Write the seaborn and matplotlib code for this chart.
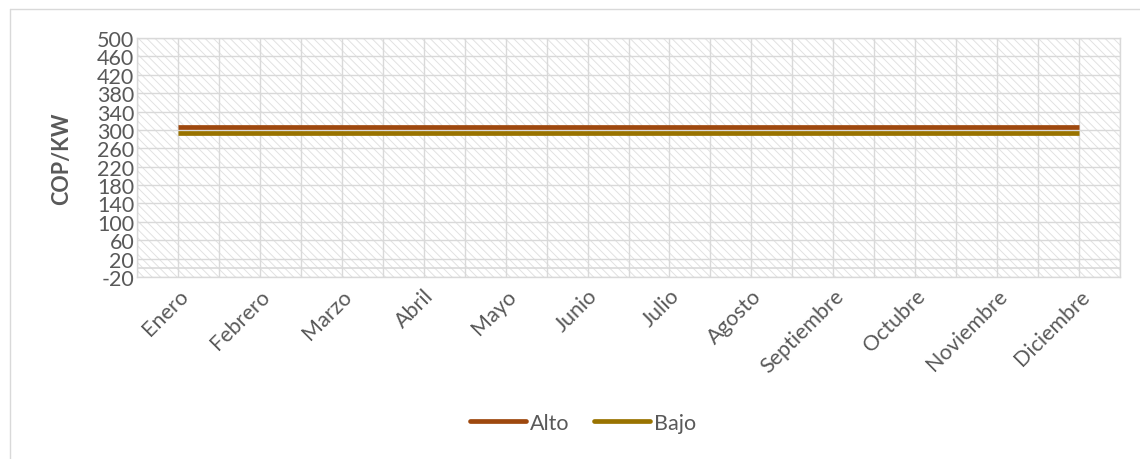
import numpy as np
import pandas as pd
import matplotlib
matplotlib.use('Agg')
import matplotlib.pyplot as plt
import seaborn as sns
from matplotlib.patches import Rectangle
from matplotlib.lines import Line2D

# Datos
meses = ['Enero', 'Febrero', 'Marzo', 'Abril', 'Mayo', 'Junio', 'Julio',
         'Agosto', 'Septiembre', 'Octubre', 'Noviembre', 'Diciembre']
alto = [307, 307, 307, 307, 307, 307, 307, 307, 307, 307, 307, 307]
bajo = [294, 294, 294, 294, 294, 294, 294, 294, 294, 294, 294, 294]
series = ['Alto', 'Bajo']
colores = ['#9E480E', '#997300']
y_ticks = list(range(-20, 501, 40))

df = pd.DataFrame({
    'mes': meses * 2,
    'valor': alto + bajo,
    'serie': ['Alto'] * len(meses) + ['Bajo'] * len(meses),
})

sns.set_style('white')
plt.rcParams['font.family'] = ['Lato', 'DejaVu Sans']
plt.rcParams['hatch.linewidth'] = 0.7
gris_txt = '#595959'
gris_grid = '#D9D9D9'
fs = 15.5

fig = plt.figure(figsize=(11.4, 4.6), dpi=100)
ax = fig.add_axes([137 / 1140, 1 - 278 / 460, (1120 - 137) / 1140, (278 - 39) / 460])

# fondo rayado del area de trazado
ax.add_patch(Rectangle((0, 0), 1, 1, transform=ax.transAxes, facecolor='white',
                       edgecolor='#E2E2E2', hatch='\\\\\\\\', lw=0, zorder=0))

sns.lineplot(data=df, x='mes', y='valor', hue='serie', palette=dict(zip(series, colores)),
             linewidth=3.4, ax=ax, legend=False, zorder=3, solid_capstyle='butt')

ax.set_xlim(-0.5, len(meses) - 0.5)
ax.set_ylim(-20, 500)
ax.set_yticks(y_ticks)
ax.set_yticklabels([str(t) for t in y_ticks], fontsize=fs, color=gris_txt)
ax.set_xticks(range(len(meses)))
ax.set_xticklabels(meses, rotation=45, ha='right', rotation_mode='anchor',
                   fontsize=fs, color=gris_txt)
ax.set_xticks(np.arange(-0.5, len(meses), 1.0), minor=True)
ax.tick_params(axis='both', which='both', length=0)
ax.tick_params(axis='y', pad=2)
ax.tick_params(axis='x', pad=6)

ax.grid(True, which='both', color=gris_grid, lw=1, zorder=1)
ax.set_axisbelow(True)
ax.axhline(0, color=gris_grid, lw=1.2, zorder=2)
for s in ax.spines.values():
    s.set_color(gris_grid)
    s.set_linewidth(1)

ax.set_xlabel('')
ax.set_ylabel('COP/KW', fontsize=fs, fontweight='bold', color=gris_txt, labelpad=18)

handles = [Line2D([0], [0], color=c, lw=3.4, solid_capstyle='round') for c in colores]
fig.legend(handles, series, loc='center', bbox_to_anchor=(583 / 1140, 1 - 424 / 460),
           ncol=2, frameon=False, fontsize=fs, handlelength=2.6, handletextpad=0.2,
           columnspacing=1.1, labelcolor=gris_txt)

# borde del grafico
fig.add_artist(Line2D([10 / 1140, 1], [1 - 10 / 460, 1 - 10 / 460], color='#D9D9D9', lw=1,
                      transform=fig.transFigure))
fig.add_artist(Line2D([10 / 1140, 10 / 1140], [0, 1 - 10 / 460], color='#D9D9D9', lw=1,
                      transform=fig.transFigure))

fig.savefig('out.png', dpi=100)
